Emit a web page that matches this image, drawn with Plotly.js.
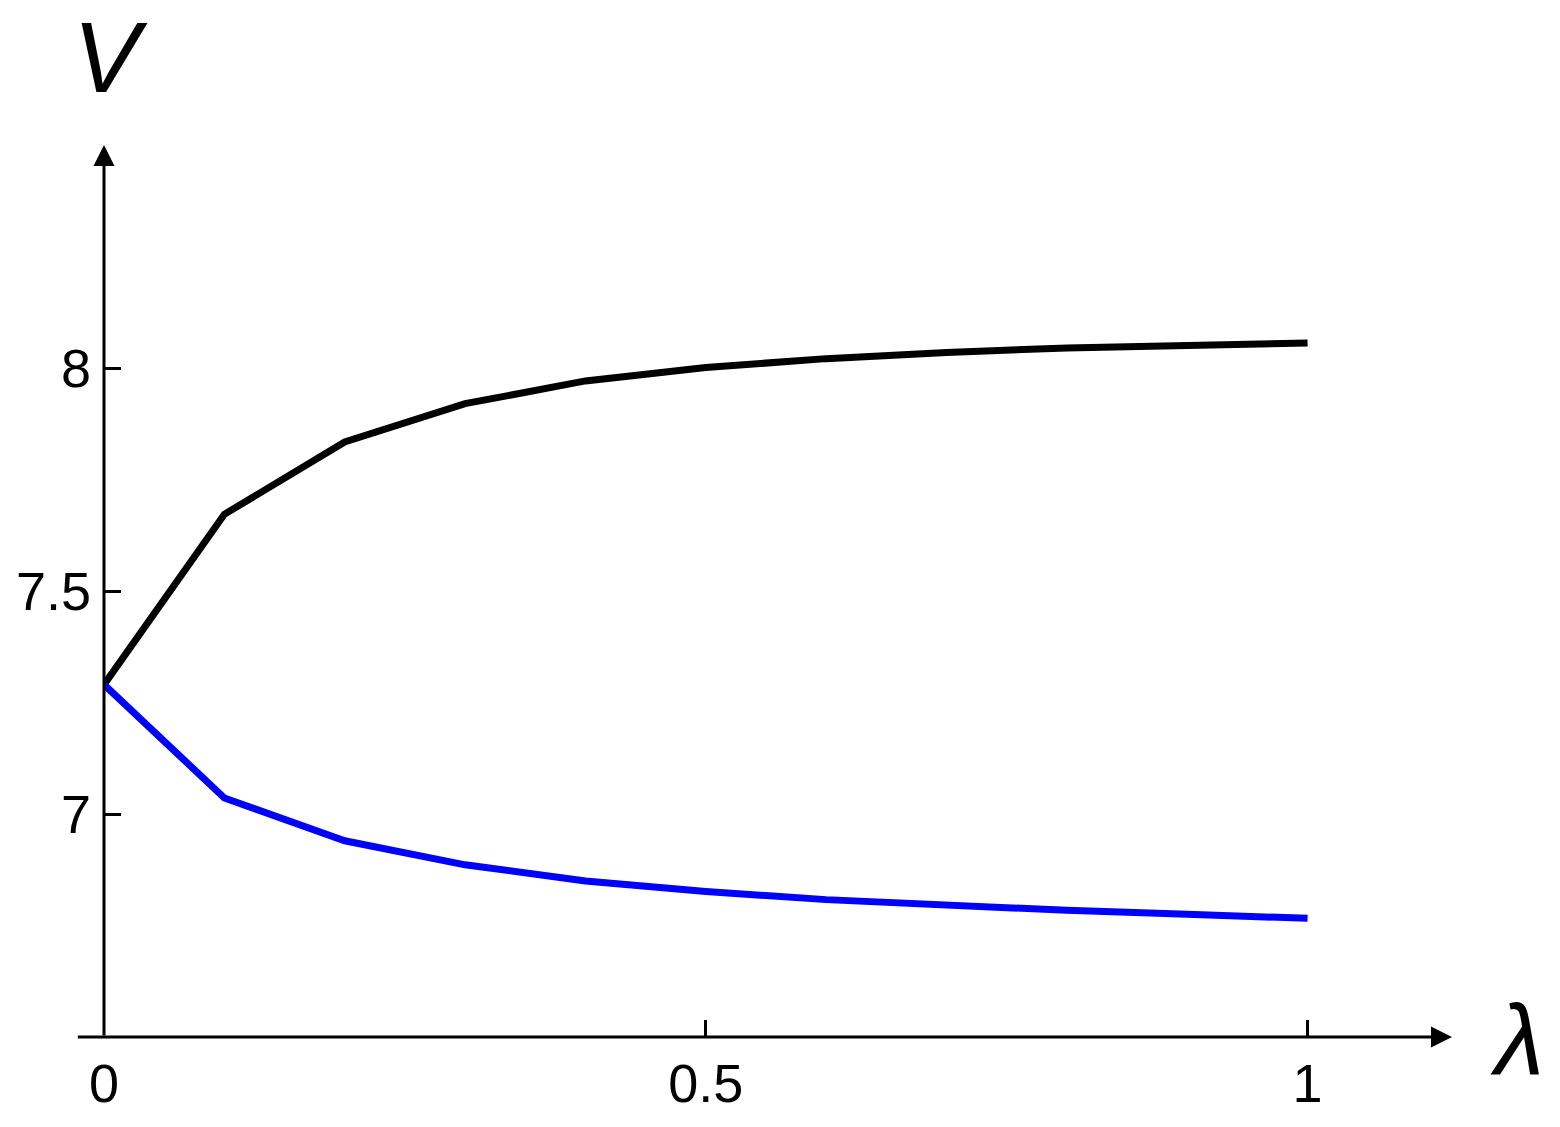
<!DOCTYPE html>
<html>
<head>
<meta charset="utf-8">
<script src="https://cdn.plot.ly/plotly-3.0.1.min.js"></script>
<style>html,body{margin:0;padding:0;background:#fff;}#chart{width:1560px;height:1127px;}</style>
</head>
<body>
<div id="chart"></div>
<script>
const lambda = [0, 0.1, 0.2, 0.3, 0.4, 0.5, 0.6, 0.7, 0.8, 0.9, 1.0];
const vUpper = [7.29, 7.672, 7.834, 7.920, 7.971, 8.001, 8.021, 8.035, 8.045, 8.051, 8.056];
const vLower = [7.29, 7.036, 6.940, 6.886, 6.850, 6.826, 6.808, 6.795, 6.784, 6.775, 6.766];
const xTickVals = [0, 0.5, 1];
const xTickText = ['0', '0.5', '1'];
const yTickVals = [7, 7.5, 8];
const yTickText = ['7', '7.5', '8'];

const traces = [
  {x: lambda, y: vUpper, mode: 'lines', line: {color: '#000000', width: 7}, showlegend: false, hoverinfo: 'skip'},
  {x: lambda, y: vLower, mode: 'lines', line: {color: '#0000ff', width: 7}, showlegend: false, hoverinfo: 'skip'}
];

const fontFam = 'Liberation Sans, Arial, sans-serif';
const layout = {
  width: 1560, height: 1127,
  margin: {l: 104, r: 108, t: 145, b: 90},
  paper_bgcolor: '#fff', plot_bgcolor: '#fff',
  showlegend: false,
  xaxis: {
    range: [0, 1.12], showgrid: false, zeroline: false, showline: false,
    tickvals: xTickVals, ticktext: xTickText,
    ticks: 'inside', ticklen: 17, tickwidth: 3, tickcolor: '#000',
    tickfont: {family: fontFam, size: 54, color: '#000'},
    ticklabelstandoff: 10
  },
  yaxis: {
    range: [6.5, 8.5], showgrid: false, zeroline: false, showline: false,
    tickvals: yTickVals, ticktext: yTickText,
    ticks: 'inside', ticklen: 17, tickwidth: 3, tickcolor: '#000',
    tickfont: {family: fontFam, size: 54, color: '#000'},
    ticklabelstandoff: 12
  },
  annotations: [
    {x: 1.12, y: 6.5, ax: -0.023, ay: 6.5, xref: 'x', yref: 'y', axref: 'x', ayref: 'y',
     text: '', showarrow: true, arrowhead: 2, arrowsize: 1.4, arrowwidth: 3, arrowcolor: '#000', standoff: 0, startstandoff: 0},
    {x: 0, y: 8.5, ax: 0, ay: 6.5, xref: 'x', yref: 'y', axref: 'x', ayref: 'y',
     text: '', showarrow: true, arrowhead: 2, arrowsize: 1.4, arrowwidth: 3, arrowcolor: '#000', standoff: 0, startstandoff: 0},
    {x: 0.0045, y: 1.099, xref: 'paper', yref: 'paper', xanchor: 'center', yanchor: 'middle', text: '<i>V</i>', showarrow: false,
     font: {family: fontFam, size: 100, color: '#000'}},
    {x: 1.048, y: -0.003, xref: 'paper', yref: 'paper', xanchor: 'center', yanchor: 'middle', text: '<i>λ</i>', showarrow: false,
     font: {family: fontFam, size: 100, color: '#000'}}
  ]
};

Plotly.newPlot('chart', traces, layout, {displayModeBar: false, staticPlot: true});
</script>
</body>
</html>
